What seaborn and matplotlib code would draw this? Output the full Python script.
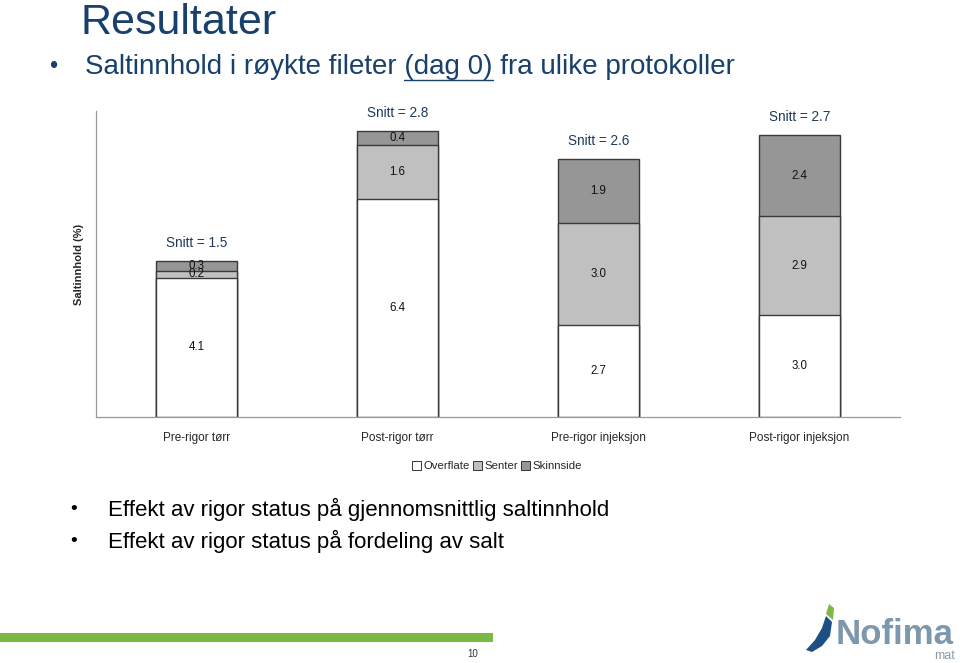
import matplotlib
matplotlib.use("Agg")
import matplotlib.pyplot as plt
import matplotlib.patches as mpatches
from matplotlib.lines import Line2D
import seaborn as sns
import pandas as pd
import numpy as np

# ---- data ----
categories = ["Pre-rigor tørr", "Post-rigor tørr", "Pre-rigor injeksjon", "Post-rigor injeksjon"]
overflate = [4.1, 6.4, 2.7, 3.0]
senter = [0.2, 1.6, 3.0, 2.9]
skinnside = [0.3, 0.4, 1.9, 2.4]
snitt = [1.5, 2.8, 2.6, 2.7]
series_names = ["Overflate", "Senter", "Skinnside"]
series_colors = ["#FFFFFF", "#C0C0C0", "#969696"]

title = "Resultater"
bullet_top = "Saltinnhold i røykte fileter (dag 0) fra ulike protokoller"
bullets_bottom = ["Effekt av rigor status på gjennomsnittlig saltinnhold",
                  "Effekt av rigor status på fordeling av salt"]
ylabel = "Saltinnhold (%)"
page_no = "10"

sns.set_theme(style="white")
plt.rcParams["font.family"] = ["Liberation Sans", "DejaVu Sans"]

W, H = 960, 663
fig = plt.figure(figsize=(9.6, 6.63), dpi=100)
ax = fig.add_axes([96 / W, 1 - 417 / H, (900 - 96) / W, (417 - 111) / H])

df = pd.DataFrame({"cat": categories,
                   "o": overflate, "s": senter, "k": skinnside})
df["total"] = df["o"] + df["s"] + df["k"]
df["os"] = df["o"] + df["s"]

edge = "#3a3a3a"
for col, colr in [("total", series_colors[2]), ("os", series_colors[1]), ("o", series_colors[0])]:
    sns.barplot(data=df, x="cat", y=col, color=colr, width=0.4, ax=ax,
                edgecolor=edge, linewidth=1.0, saturation=1, order=categories)

ax.set_xlim(-0.5, 3.5)
ax.set_ylim(0, 9.0)
ax.set_ylabel(ylabel, fontsize=8, fontweight="bold", labelpad=9)
ax.set_xlabel("")
ax.set_yticks([])
ax.set_xticks(range(4))
ax.set_xticklabels(categories, fontsize=8.5)
ax.tick_params(axis="x", which="major", length=0, pad=11)
ax.set_xticks(np.arange(-0.5, 4, 1), minor=True)
ax.tick_params(axis="x", which="minor", length=4, width=0.8, color="#888888", direction="out")
for s in ["top", "right"]:
    ax.spines[s].set_visible(False)
for s in ["left", "bottom"]:
    ax.spines[s].set_color("#999999")
    ax.spines[s].set_linewidth(0.9)

# value labels
for i in range(4):
    o, s_, k = overflate[i], senter[i], skinnside[i]
    ax.text(i, o / 2, f"{o:.1f}", ha="center", va="center", fontsize=8.3, color="#111111")
    ax.text(i, o + s_ / 2, f"{s_:.1f}", ha="center", va="center", fontsize=8.3, color="#111111")
    ax.text(i, o + s_ + k / 2, f"{k:.1f}", ha="center", va="center", fontsize=8.3, color="#111111")
    ax.annotate(f"Snitt = {snitt[i]:.1f}", xy=(i, o + s_ + k), xytext=(0, 13),
                textcoords="offset points", ha="center", va="center", fontsize=9.8,
                color="#1F3B5A")

# legend
handles = [mpatches.Patch(facecolor=c, edgecolor="#333333", linewidth=0.7, label=n)
           for n, c in zip(series_names, series_colors)]
fig.legend(handles=handles, loc="center", bbox_to_anchor=(497 / W, 1 - 466 / H), ncol=3,
           frameon=False, fontsize=8.2, handlelength=0.8, handleheight=0.8,
           handletextpad=0.2, columnspacing=0.3, borderpad=0)

navy = "#17406D"
fig.text(80 / W, 1 - 23 / H, title, fontsize=31, color=navy, ha="left", va="center")
fig.text(49 / W, 1 - 67 / H, "•", fontsize=17, color=navy, ha="left", va="center")
fs_top = 20
t_top = fig.text(85 / W, 1 - 67 / H, bullet_top, fontsize=fs_top, color=navy,
                 ha="left", va="center")

# underline "(dag 0)"
renderer = fig.canvas.get_renderer()
pre = bullet_top.split("(dag 0)")[0]
full_to = pre + "(dag 0)"
tmp1 = fig.text(85 / W, 1 - 67 / H, full_to, fontsize=fs_top, ha="left", va="center", alpha=0)
tmp2 = fig.text(85 / W, 1 - 67 / H, "(dag 0)", fontsize=fs_top, ha="left", va="center", alpha=0)
e1 = tmp1.get_window_extent(renderer)
e2 = tmp2.get_window_extent(renderer)
x_end = e1.x1
x_start = x_end - e2.width
y_ul = 1 - 80 / H
fig.add_artist(Line2D([x_start / W, x_end / W], [y_ul, y_ul], transform=fig.transFigure,
                      color=navy, linewidth=1.0))
tmp1.remove()
tmp2.remove()

for j, b in enumerate(bullets_bottom):
    yy = 1 - (509 + 32 * j) / H
    fig.text(70 / W, yy, "•", fontsize=14, color="black", ha="left", va="center")
    fig.text(108 / W, yy, b, fontsize=16, color="black", ha="left", va="center")

# footer
fig.add_artist(mpatches.Rectangle((0, 1 - 642 / H), 493 / W, 9 / H, transform=fig.transFigure,
                                  facecolor="#7CB844", edgecolor="none"))
fig.text(473 / W, 1 - 654 / H, page_no, fontsize=7, color="#333333", ha="center", va="center")

# logo
blue_shape = [(806, 650), (815, 640), (822, 628), (826, 616), (832, 622), (830, 636),
              (822, 646), (812, 652)]
green_shape = [(826, 614), (829, 604), (834, 608), (833, 620)]
for pts, col in [(blue_shape, "#1D4F85"), (green_shape, "#7CB844")]:
    fig.add_artist(mpatches.Polygon([(x / W, 1 - y / H) for x, y in pts], closed=True,
                                    transform=fig.transFigure, facecolor=col, edgecolor="none"))
fig.text(836 / W, 1 - 634 / H, "Nofima", fontsize=25, color="#7D97AC", ha="left",
         va="center", fontweight="bold")
fig.text(955 / W, 1 - 656 / H, "mat", fontsize=9, color="#8A9AA8", ha="right", va="center")

fig.savefig("out.png", dpi=100)
